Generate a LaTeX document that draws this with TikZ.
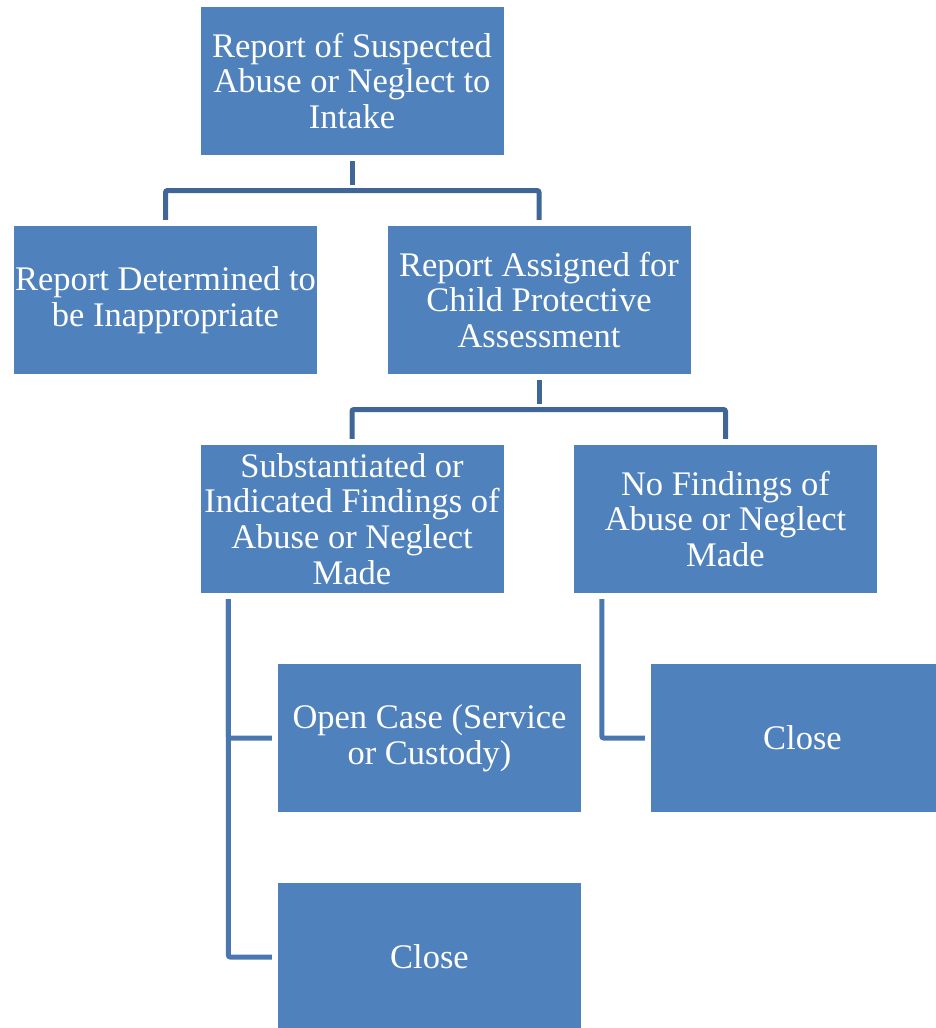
\documentclass[tikz,border=0pt]{standalone}
\usepackage{fontspec}
\setmainfont{Liberation Serif}
\definecolor{boxblue}{HTML}{4F81BD}
\definecolor{linkdark}{HTML}{3F6697}
\definecolor{linkblue}{HTML}{4A77AF}
\begin{document}
\begin{tikzpicture}[x=1pt, y=-1pt,
		box/.style={rectangle, fill=boxblue, text=white, align=center, inner sep=0pt, minimum width=303pt, minimum height=148pt, font=\fontsize{34.5}{35.8}\selectfont},
		link/.style={draw=linkdark, line width=5pt, rounded corners=2pt, shorten <=6pt, shorten >=6pt},
		branch/.style={link, draw=linkblue}]
		\useasboundingbox (0,0) rectangle (936,1028);
		\clip (0,0) rectangle (936,1028);
	
		\node[box] (report) at (352,81) {Report of Suspected\\Abuse or Neglect to\\Intake};
		\node[box] (inapp) at (165.5,300) {Report Determined to\\be Inappropriate};
		\node[box] (assign) at (539,300) {Report Assigned for\\Child Protective\\Assessment};
		\node[box] (subst) at (352,519) {Substantiated or\\Indicated Findings of\\Abuse or Neglect\\Made};
		\node[box] (nofind) at (725.5,519) {No Findings of\\Abuse or Neglect\\Made};
		\node[box] (opencase) at (429.5,738) {Open Case (Service\\or Custody)};
		\node[box] (closeB) at (802.5,738) {Close};
		\node[box] (closeA) at (429.5,957) {Close};
	
		\coordinate (J1) at (352,190.5); \coordinate (J2) at (539,409.5);
		\draw[link] (report.south) -- (J1); \draw[link] (inapp.north) |- (J1) -| (assign.north);
		\draw[link] (assign.south) -- (J2); \draw[link] (subst.north) |- (J2) -| (nofind.north);
	
		\draw[branch] ([xshift=28pt]subst.south west) |- (opencase.west);
		\draw[branch] ([xshift=28pt]subst.south west) |- (closeA.west);
		\draw[branch] ([xshift=28pt]nofind.south west) |- (closeB.west);
	\end{tikzpicture}
\end{document}
